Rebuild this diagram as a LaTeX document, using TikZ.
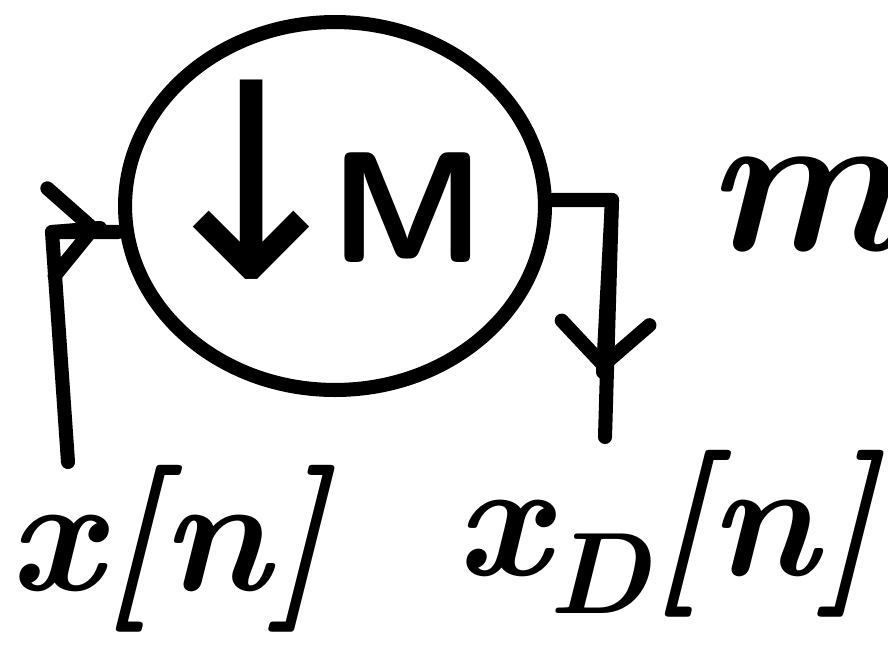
\documentclass[tikz,border=0pt]{standalone}
\usepackage{fontspec}
\newfontfamily\arrowfont{DejaVu Sans}
\usetikzlibrary{shapes.geometric,arrows.meta,decorations.markings}
\begin{document}
\begin{tikzpicture}[x=0.02cm,y=-0.02cm,
  ink/.style={line width=8pt,line cap=round,line join=round},
  midarrow/.style={postaction={decorate},decoration={markings,
     mark=at position #1 with {\arrow{Straight Barb[length=24pt,width=50pt,line width=8pt,round]}}}},
  handtext/.style={inner sep=0pt,anchor=base west}]
\useasboundingbox (0,0) rectangle (888,647);
% downsampler
\node[ink,draw,ellipse,minimum width=8.4cm,minimum height=7.36cm,inner sep=0pt] (ds) at (335,206) {};
\node[inner sep=0pt] (dn) at (252,180) {\fontsize{155}{155}\selectfont\arrowfont ↓};
\node[handtext] (lbl) at (330,262) {\fontsize{90}{90}\selectfont\sffamily\bfseries M};
% input
\coordinate (inbot) at (68,462);
\coordinate (incorner) at (52,232);
\coordinate (inend) at (ds.west |- incorner);
\draw[ink] (inbot) -- (incorner) -- (inend);
\draw[ink,midarrow=1] (incorner) -- (100,228);
% output
\coordinate (outcorner) at (612,200);
\coordinate (outstart) at (ds.east |- outcorner);
\coordinate (outbot) at (605,437);
\draw[ink] (outstart) -- (outcorner) -- (outbot);
\draw[ink,midarrow=1] (outcorner) -- (603,372);
% labels
\node[handtext] (xin) at (8,590) {\fontsize{95}{95}\selectfont\bfseries\itshape x[n]};
\node[handtext] (xout) at (455,575) {\fontsize{95}{95}\selectfont\bfseries\itshape x\raisebox{-22pt}{\fontsize{66}{66}\selectfont D}[n]};
\node[handtext] (m) at (705,250) {\fontsize{118}{118}\selectfont\bfseries\itshape m};
\end{tikzpicture}
\end{document}
